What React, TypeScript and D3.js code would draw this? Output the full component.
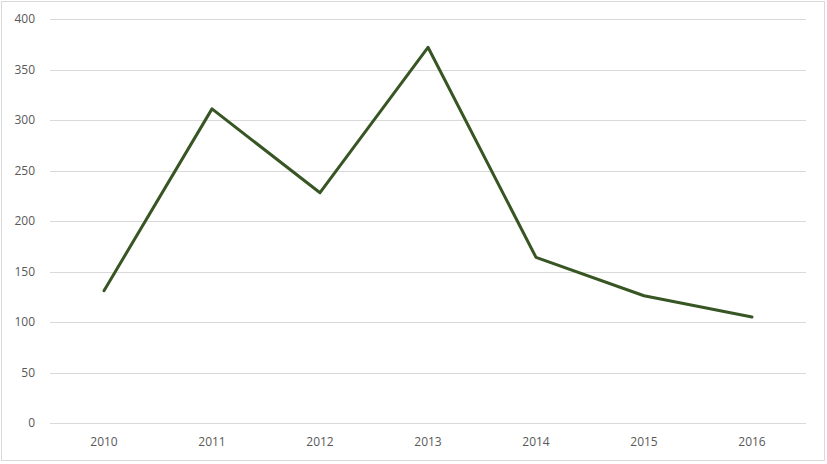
import React, { useEffect, useRef } from 'react';
import * as d3 from 'd3';

const years = ['2010', '2011', '2012', '2013', '2014', '2015', '2016'];
const values = [131, 311, 228, 372, 164, 126, 105];
const yTicks = [0, 50, 100, 150, 200, 250, 300, 350, 400];

const W = 827;
const H = 464;

function LineChart() {
  const svgRef = useRef<SVGSVGElement>(null);

  useEffect(() => {
    const svg = d3.select(svgRef.current);
    svg.selectAll('*').remove();

    const left = 50;
    const right = 806;
    const top = 19;
    const bottom = 423;

    const x = d3.scaleBand<string>().domain(years).range([left, right]);
    const y = d3.scaleLinear().domain([0, 400]).range([bottom, top]);

    svg
      .append('rect')
      .attr('x', 1.5)
      .attr('y', 1.5)
      .attr('width', W - 4)
      .attr('height', H - 5)
      .attr('fill', '#fff')
      .attr('stroke', '#d9d9d9');

    // gridlines
    svg
      .selectAll('line.grid')
      .data(yTicks)
      .join('line')
      .attr('class', 'grid')
      .attr('x1', left)
      .attr('x2', right)
      .attr('y1', d => Math.round(y(d)) + 0.5)
      .attr('y2', d => Math.round(y(d)) + 0.5)
      .attr('stroke', '#d9d9d9')
      .attr('stroke-width', 1);

    svg
      .selectAll('text.ytick')
      .data(yTicks)
      .join('text')
      .attr('class', 'ytick')
      .attr('x', 35)
      .attr('y', d => y(d))
      .attr('dy', '0.35em')
      .attr('text-anchor', 'end')
      .attr('font-family', 'Open Sans, Liberation Sans, sans-serif')
      .attr('font-size', 12)
      .attr('fill', '#595959')
      .text(d => d);

    svg
      .selectAll('text.xtick')
      .data(years)
      .join('text')
      .attr('class', 'xtick')
      .attr('x', d => (x(d) as number) + x.bandwidth() / 2)
      .attr('y', 442)
      .attr('dy', '0.35em')
      .attr('text-anchor', 'middle')
      .attr('font-family', 'Open Sans, Liberation Sans, sans-serif')
      .attr('font-size', 12)
      .attr('fill', '#595959')
      .text(d => d);

    const line = d3
      .line<number>()
      .x((d, i) => (x(years[i]) as number) + x.bandwidth() / 2)
      .y(d => y(d));

    svg
      .append('path')
      .datum(values)
      .attr('d', line)
      .attr('fill', 'none')
      .attr('stroke', '#375623')
      .attr('stroke-width', 3)
      .attr('stroke-linejoin', 'round')
      .attr('stroke-linecap', 'round');
  }, []);

  return (
    <svg
      ref={svgRef}
      width={W}
      height={H}
      style={{ position: 'fixed', left: 0, top: 0, display: 'block' }}
    ></svg>
  );
}

export default function App() {
  return <LineChart />;
}
